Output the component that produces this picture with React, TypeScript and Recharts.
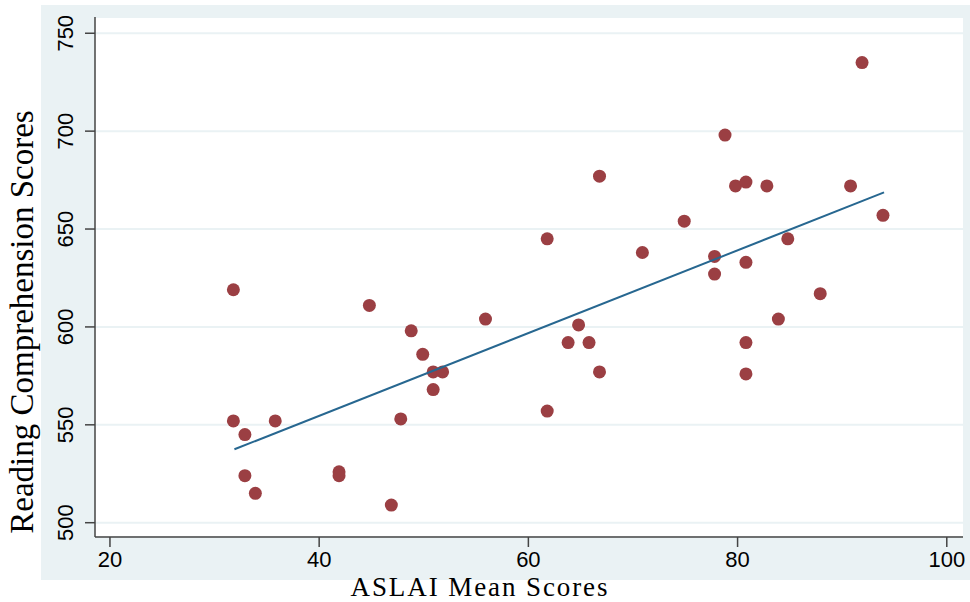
import { ScatterChart, Scatter, XAxis, YAxis, CartesianGrid } from "recharts";

// ASLAI mean score (x) and reading comprehension score (y), one entry per country
const aslai = [31.8, 31.8, 32.9, 32.9, 33.9, 35.8, 41.9, 41.9, 44.8, 46.9, 47.8, 48.8, 49.9, 50.9, 50.9, 51.8, 55.9, 61.8, 61.8, 63.8, 64.8, 65.8, 66.8, 66.8, 70.9, 74.9, 77.8, 77.8, 78.8, 79.8, 80.8, 80.8, 80.8, 80.8, 82.8, 83.9, 84.8, 87.9, 90.8, 91.9, 93.9];
const reading = [619, 552, 545, 524, 515, 552, 526, 524, 611, 509, 553, 598, 586, 577, 568, 577, 604, 645, 557, 592, 601, 592, 677, 577, 638, 654, 636, 627, 698, 672, 674, 633, 592, 576, 672, 604, 645, 617, 672, 735, 657];

// fitted line end points
const fitX = [31.9, 94];
const fitY = [537.5, 668.7];

const xTicks = [20, 40, 60, 80, 100];
const yTicks = [500, 550, 600, 650, 700, 750];

const points = aslai.map((x, i) => ({ x, y: reading[i] }));
const fit = fitX.map((x, i) => ({ x, y: fitY[i] }));

const BG = "#EAF2F4";
const AXIS = "#444";
const DOT = "#9B3F43";
const LINE = "#276790";
const SANS = "'Liberation Sans', Arial, sans-serif";
const SERIF = "'Liberation Serif', 'Times New Roman', serif";

const XTick = (props: any) => {
  const { x, y, payload } = props;
  return (
    <text x={x} y={y} dy={18} textAnchor="middle" fontFamily={SANS} fontSize={22} fill="#000">
      {payload.value}
    </text>
  );
};

const YTick = (props: any) => {
  const { y, payload } = props;
  return (
    <text x={73} y={y} transform={`rotate(-90, 73, ${y})`} textAnchor="middle" fontFamily={SANS} fontSize={22} fill="#000">
      {payload.value}
    </text>
  );
};

const Dot = (props: any) => <circle cx={props.cx} cy={props.cy} r={6.5} fill={DOT} />;

export default function App() {
  return (
    <div style={{ position: "absolute", left: 0, top: 0, width: 970, height: 602, background: "#fff" }}>
      <div style={{ position: "absolute", left: 41, top: 5, width: 929, height: 575, background: BG }} />
      <div style={{ position: "absolute", left: 0, top: 0 }}>
        <ScatterChart width={970} height={602} margin={{ top: 17, right: 7, bottom: 0, left: 0 }}>
          <CartesianGrid fill="#fff" vertical={false} stroke={BG} strokeWidth={2} />
          <XAxis
            type="number"
            dataKey="x"
            domain={[18.57, 101.55]}
            ticks={xTicks}
            allowDataOverflow
            height={65}
            tickSize={10}
            axisLine={{ stroke: AXIS, strokeWidth: 1.5 }}
            tickLine={{ stroke: AXIS, strokeWidth: 1.5 }}
            tick={XTick}
            label={{
              content: () => (
                <text
                  x={479}
                  y={596}
                  textAnchor="middle"
                  textLength={257}
                  lengthAdjust="spacing"
                  fontFamily={SERIF}
                  fontSize={27}
                  fill="#000"
                >
                  ASLAI Mean Scores
                </text>
              ),
            }}
          />
          <YAxis
            type="number"
            dataKey="y"
            domain={[492.7, 758.3]}
            ticks={yTicks}
            allowDataOverflow
            width={95}
            tickSize={10}
            axisLine={{ stroke: AXIS, strokeWidth: 1.5 }}
            tickLine={{ stroke: AXIS, strokeWidth: 1.5 }}
            tick={YTick}
            label={{
              content: () => (
                <text x={33} y={322} transform="rotate(-90, 33, 322)" textAnchor="middle" fontFamily={SERIF} fontSize={33} fill="#000">
                  Reading Comprehension Scores
                </text>
              ),
            }}
          />
          <Scatter data={points} shape={Dot} isAnimationActive={false} />
          <Scatter
            data={fit}
            shape={() => <g />}
            line={{ stroke: LINE, strokeWidth: 2 }}
            lineType="joint"
            isAnimationActive={false}
          />
        </ScatterChart>
      </div>
    </div>
  );
}
